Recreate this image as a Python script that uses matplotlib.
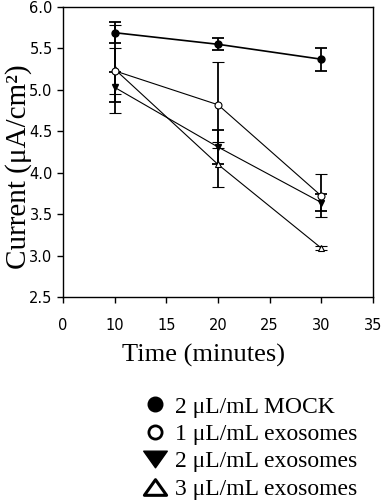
import matplotlib
matplotlib.use("Agg")
import matplotlib.pyplot as plt
from matplotlib.lines import Line2D
from matplotlib.path import Path

# time points (minutes)
time = [10, 20, 30]

# current (uA/cm2) and error bars for each treatment
mock = [5.69, 5.55, 5.37]
mock_err = [0.13, 0.07, 0.14]
exo1 = [5.23, 4.82, 3.72]
exo1_err = [0.28, 0.52, 0.26]
exo2 = [5.03, 4.31, 3.64]
exo2_err = [0.18, 0.20, 0.10]
exo3 = [5.25, 4.10, 3.09]
exo3_err = [0.53, 0.27, 0.02]

labels = ["2 μL/mL MOCK", "1 μL/mL exosomes", "2 μL/mL exosomes", "3 μL/mL exosomes"]
xticks = [5, 10, 15, 20, 25, 30, 35]
xticklabels = ["0", "10", "15", "20", "25", "30", "35"]
yticks = [2.5, 3.0, 3.5, 4.0, 4.5, 5.0, 5.5, 6.0]

serif = "Liberation Serif"

fig = plt.figure(figsize=(3.85, 5.0), dpi=100)
ax = fig.add_axes([63 / 385, 1 - 297 / 500, 310 / 385, 290 / 500])

err_kw = dict(ecolor="black", elinewidth=1.3, capsize=4, capthick=1.3)
ax.errorbar(time, exo3, yerr=exo3_err, color="black", lw=0.8, marker="^",
            ms=5, mfc="white", mec="black", mew=0.8, **err_kw)
ax.errorbar(time, exo2, yerr=exo2_err, color="black", lw=0.8, marker="v",
            ms=5, mfc="black", mec="black", **err_kw)
ax.errorbar(time, exo1, yerr=exo1_err, color="black", lw=0.8, marker="o",
            ms=5, mfc="white", mec="black", mew=0.8, **err_kw)
ax.errorbar(time, mock, yerr=mock_err, color="black", lw=1.2, marker="o",
            ms=5, mfc="black", mec="black", **err_kw)

ax.set_xlim(5, 35)
ax.set_ylim(2.5, 6.0)
ax.set_xticks(xticks)
ax.set_xticklabels(xticklabels)
ax.set_yticks(yticks)
ax.set_yticklabels([f"{v:.1f}" for v in yticks])
ax.tick_params(direction="out", length=4, width=1, labelsize=10.5)
ax.tick_params(axis="x", pad=11)
for s in ax.spines.values():
    s.set_linewidth(1)

ax.set_xlabel("Time (minutes)", family=serif, fontsize=19, va="center")
ax.xaxis.set_label_coords(0.453, -0.2)
ax.set_ylabel("Current (μA/cm²)", family=serif, fontsize=21, va="center")
ax.yaxis.set_label_coords(-0.145, 0.45)

# wide legend triangles, closed paths
tri_down = Path([(-1.35, 0.95), (1.35, 0.95), (0, -0.95), (-1.35, 0.95)], closed=True)
tri_up = Path([(-1.35, -0.95), (1.35, -0.95), (0, 0.95), (-1.35, -0.95)], closed=True)
handles = [
    Line2D([], [], ls="none", marker="o", ms=10.5, mfc="black", mec="black"),
    Line2D([], [], ls="none", marker="o", ms=9.5, mfc="white", mec="black", mew=2),
    Line2D([], [], ls="none", marker=tri_down, ms=17, mfc="black", mec="black"),
    Line2D([], [], ls="none", marker=tri_up, ms=16, mfc="white", mec="black", mew=2.2),
]
fig.legend(handles, labels, loc="upper left", bbox_to_anchor=(143 / 385, 1 - 396 / 500),
           frameon=False, prop={"family": serif, "size": 17}, handlelength=1.0,
           handletextpad=0.35, labelspacing=0.25, borderpad=0, borderaxespad=0)

fig.savefig("out.png", dpi=100)
